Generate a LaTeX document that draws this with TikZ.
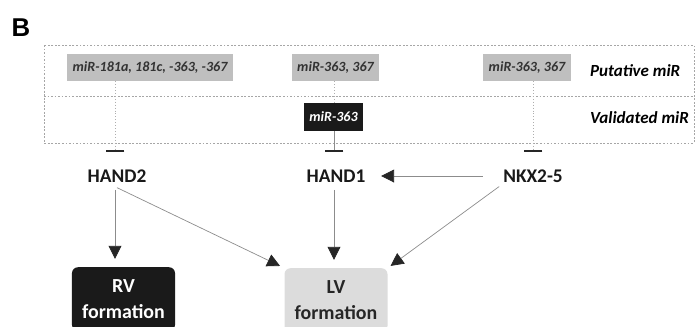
\documentclass[tikz,border=0pt]{standalone}
\usepackage{fontspec}
\setmainfont{Carlito}
\newfontfamily\panelfont{Liberation Sans}
\usetikzlibrary{arrows.meta,positioning}
\definecolor{putgray}{HTML}{BFBFBF}
\definecolor{valblack}{HTML}{1A1A1A}
\definecolor{lvgray}{HTML}{DCDCDC}
\definecolor{linkgray}{HTML}{8C8C8C}
\definecolor{boxdash}{HTML}{A6A6A6}
\definecolor{mirtext}{HTML}{333333}

\begin{document}
\begin{tikzpicture}[x=0.03cm,y=-0.03cm,
  putbox/.style={fill=putgray,inner xsep=0.17cm,minimum height=0.81cm,font=\fontsize{12}{14}\selectfont\bfseries\itshape,text=mirtext},
  valbox/.style={fill=valblack,inner xsep=0.17cm,minimum height=0.84cm,font=\fontsize{12}{14}\selectfont\bfseries\itshape,text=white},
  gene/.style={font=\fontsize{16.5}{18}\selectfont\bfseries,text=black!90},
  rowlabel/.style={anchor=west,font=\fontsize{14.5}{16}\selectfont\bfseries\itshape},
  fatebox/.style={anchor=north,rounded corners=5pt,minimum width=3.09cm,inner ysep=0.37cm,align=center,font=\fontsize{17}{22}\selectfont\bfseries},
  link/.style={-{Triangle[width=11pt,length=11pt,color=black!85]},linkgray,line width=0.6pt},
  inhib/.style={-{Bar[width=16pt,line width=1.6pt,color=black!85]},linkgray,line width=0.5pt}]
  \useasboundingbox (0,0) rectangle (699,326);
  \clip (0,0) rectangle (699,326);

  \node[font=\panelfont\fontsize{22}{24}\selectfont\bfseries] (panel) at (21,28) {B};

  % miR panel
  \draw[boxdash,line width=0.6pt,dash pattern=on 1.6pt off 1.4pt] (44,45) rectangle (694,143);
  \draw[boxdash,line width=0.6pt,dash pattern=on 1.6pt off 1.4pt] (44,96) -- (694,96);
  \node[putbox] (put2) at (150,67.5) {miR-181a, 181c, -363, -367};
  \node[putbox] (put1) at (335.5,67.5) {miR-363, 367};
  \node[putbox] (put5) at (527,67.5) {miR-363, 367};
  \node[valbox] (val1) at (333.5,117) {miR-363};
  \node[rowlabel] (putlbl) at (586,71) {Putative miR};
  \node[rowlabel] (vallbl) at (586,118) {Validated miR};

  \coordinate (bar2) at (115,152);
  \coordinate (bar1) at (334,152);
  \coordinate (bar5) at (533,152);
  \draw[inhib,dotted,linkgray!70] (put2.south -| bar2) -- (bar2);
  \draw[dotted,linkgray!70,line width=0.5pt] (put1.south -| bar1) -- (val1.north -| bar1);
  \draw[inhib] (val1.south -| bar1) -- (bar1);
  \draw[inhib,dotted,linkgray!70] (put5.south -| bar5) -- (bar5);

  % genes
  \node[gene] (hand2) at (117,176) {HAND2};
  \node[gene] (hand1) at (336,176) {HAND1};
  \node[gene] (nkx) at (533,176) {NKX2-5};

  \node[fatebox,fill=valblack,text=white] (rv) at (123.5,267) {RV\\formation};
  \node[fatebox,fill=lvgray,text=black!85] (lv) at (336,268) {LV\\formation};

  \draw[link] ([xshift=-14pt]nkx.west) -- ([xshift=10pt]hand1.east);
  \draw[link] ([yshift=-3pt]hand2.south -| 115,0) -- ([yshift=7pt]rv.north -| 115,0);
  \draw[link] ([yshift=-3pt]hand1.south -| 334,0) -- ([yshift=7pt]lv.north -| 334,0);
  \draw[link,shorten >=4pt] ([yshift=-1pt]hand2.south) -- (lv.north west);
  \draw[link,shorten >=3pt] (nkx.south west) -- (lv.north east);
\end{tikzpicture}
\end{document}
